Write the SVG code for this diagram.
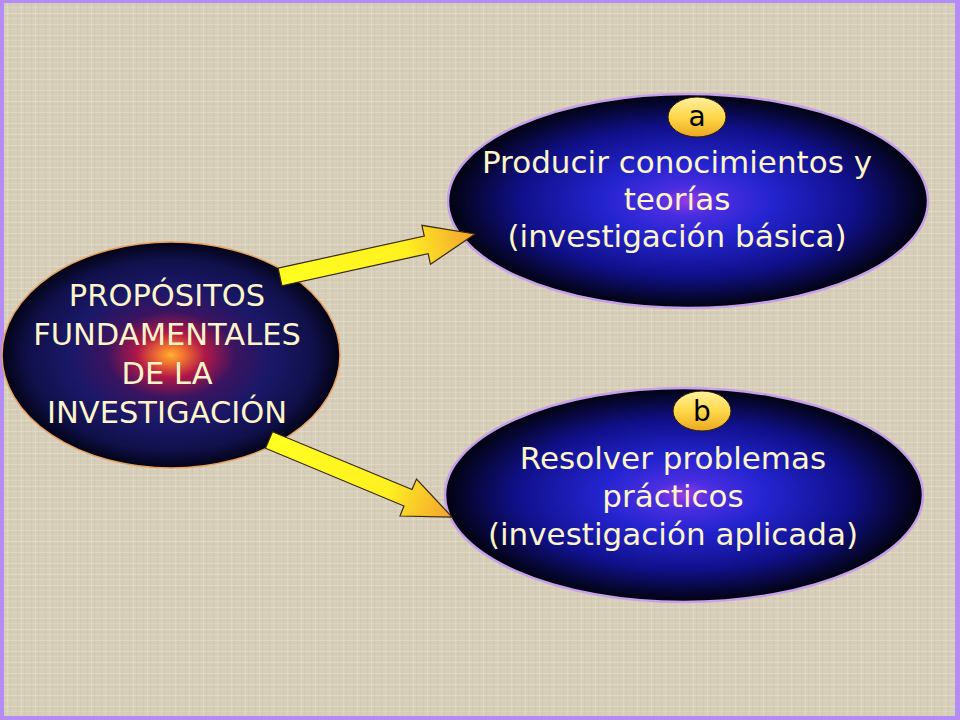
<svg xmlns="http://www.w3.org/2000/svg" width="960" height="720" viewBox="0 0 960 720">
<defs>
<style>
.lt{font-family:"DejaVu Sans","Noto Sans",sans-serif;font-size:30.5px;fill:#fdf5c8;text-anchor:middle}
.rt{font-family:"DejaVu Sans","Noto Sans",sans-serif;font-size:31px;fill:#fdf5c8;text-anchor:middle}
.bt{font-family:"DejaVu Sans","Noto Sans",sans-serif;font-size:28px;fill:#000;text-anchor:middle}
.arrow{stroke:#3a2a10;stroke-width:1.2;stroke-linejoin:miter}
.badge{fill:url(#badgeGrad);stroke:#2a1a00;stroke-width:1}
.rell{fill:url(#blueGrad);stroke:#c6a0ea;stroke-width:2.5}
</style>
<pattern id="linen" width="14" height="11" patternUnits="userSpaceOnUse">
<rect width="14" height="11" fill="#d7ceb9"/>
<path d="M0 2.5H14" stroke="#e9e2d0" stroke-width="1" opacity="0.55"/>
<path d="M0 7.5H14" stroke="#e6dfcc" stroke-width="0.8" opacity="0.45"/>
<path d="M3.5 0V11M10.5 0V11" stroke="#c4baa4" stroke-width="0.9" opacity="0.35"/>
<path d="M0 5H14" stroke="#c0b69f" stroke-width="0.7" opacity="0.3"/>
<path d="M7.5 0V11" stroke="#ebe4d3" stroke-width="0.8" opacity="0.4"/>
</pattern>
<radialGradient id="leftGrad" cx="0.5" cy="0.5" r="0.5">
<stop offset="0" stop-color="#ffb030"/>
<stop offset="0.08" stop-color="#f07030"/>
<stop offset="0.2" stop-color="#b01848"/>
<stop offset="0.38" stop-color="#3a1460"/>
<stop offset="0.6" stop-color="#1a1868"/>
<stop offset="0.85" stop-color="#10104a"/>
<stop offset="1" stop-color="#030316"/>
</radialGradient>
<radialGradient id="blueGrad" cx="0.5" cy="0.5" r="0.5">
<stop offset="0" stop-color="#9a3ae0"/>
<stop offset="0.13" stop-color="#4a2ee0"/>
<stop offset="0.35" stop-color="#2424d0"/>
<stop offset="0.7" stop-color="#10108a"/>
<stop offset="1" stop-color="#02020e"/>
</radialGradient>
<linearGradient id="badgeGrad" x1="0" y1="0" x2="0" y2="1">
<stop offset="0" stop-color="#fff0a0"/>
<stop offset="0.5" stop-color="#ffd84a"/>
<stop offset="1" stop-color="#eaa820"/>
</linearGradient>
<linearGradient id="arrowGrad1" gradientUnits="userSpaceOnUse" x1="280" y1="277" x2="475" y2="234">
<stop offset="0" stop-color="#ffff20"/>
<stop offset="0.65" stop-color="#fff020"/>
<stop offset="1" stop-color="#f2a030"/>
</linearGradient>
<linearGradient id="arrowGrad2" gradientUnits="userSpaceOnUse" x1="269" y1="440" x2="452" y2="517">
<stop offset="0" stop-color="#ffff20"/>
<stop offset="0.65" stop-color="#fff020"/>
<stop offset="1" stop-color="#f2a030"/>
</linearGradient>
</defs>

<rect width="960" height="720" fill="#b48cf5"/>
<rect x="4" y="3" width="951" height="713" fill="url(#linen)"/>

<g id="node-main">
<ellipse cx="171" cy="355" rx="169" ry="113" fill="url(#leftGrad)" stroke="#e8a060" stroke-width="1.5"/>
<text class="lt" x="167" y="306">PROPÓSITOS</text>
<text class="lt" x="167" y="345">FUNDAMENTALES</text>
<text class="lt" x="167" y="384">DE LA</text>
<text class="lt" x="167" y="423">INVESTIGACIÓN</text>
</g>

<g id="node-a">
<ellipse class="rell" cx="688" cy="201" rx="240" ry="107"/>
<ellipse class="badge" cx="697" cy="117" rx="29" ry="20"/>
<text class="bt" x="697" y="126">a</text>
<text class="rt" x="677" y="173">Producir conocimientos y</text>
<text class="rt" x="677" y="210">teorías</text>
<text class="rt" x="677" y="247">(investigación básica)</text>
</g>

<g id="node-b">
<ellipse class="rell" cx="684" cy="495" rx="239" ry="107"/>
<ellipse class="badge" cx="702" cy="411" rx="29" ry="20"/>
<text class="bt" x="702" y="421">b</text>
<text class="rt" x="673" y="469">Resolver problemas</text>
<text class="rt" x="673" y="507">prácticos</text>
<text class="rt" x="673" y="545">(investigación aplicada)</text>
</g>

<g id="connectors">
<polygon class="arrow" fill="url(#arrowGrad1)" points="278.1,268.2 424.3,236 421.9,225.3 475,234 430.5,264.3 428.1,253.6 281.9,285.8"/>
<polygon class="arrow" fill="url(#arrowGrad2)" points="272.5,431.7 412,489.5 416.5,479 452,517 400,516 404,506 265.5,448.3"/>
</g>
</svg>
